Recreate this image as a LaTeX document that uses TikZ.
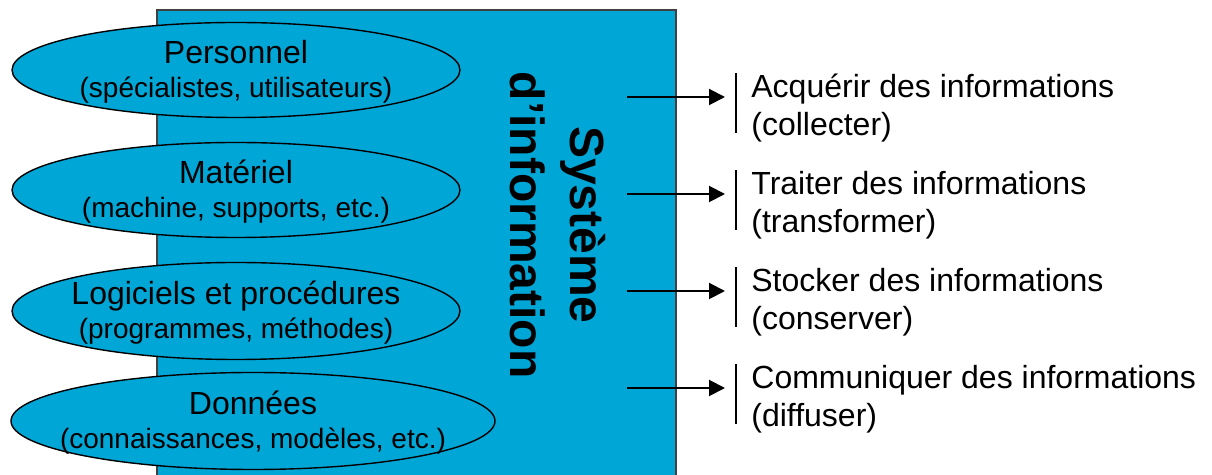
\documentclass[tikz,border=0pt]{standalone}
\usepackage{fontspec}
\setmainfont{Liberation Sans}
\usepackage{xcolor}
\usetikzlibrary{shapes, arrows.meta, positioning}
\definecolor{siblue}{RGB}{0,166,214}
\newcommand{\parthead}[1]{{\fontsize{16}{19}\selectfont #1}}

\begin{document}
\begin{tikzpicture}[x=0.5pt, y=-0.5pt]
    \useasboundingbox (0,0) rectangle (1212,475);
    \tikzstyle{part} = [draw, ellipse, fill=siblue, line width=0.7pt, inner sep=0pt]
    \tikzstyle{parttext} = [align=center, inner sep=0pt, font=\fontsize{14}{17}\selectfont]
    \tikzstyle{task} = [anchor=north west, align=left, inner sep=0pt, font=\fontsize{16}{19}\selectfont]
    \tikzstyle{connector} = [draw, line width=1pt, -{Triangle[length=8pt, width=8pt]}]
    \tikzstyle{bar} = [draw, line width=0.8pt]

    \node[draw=black!75, fill=siblue, line width=0.6pt, inner sep=0pt,
        minimum width=259.5pt,
        minimum height=240pt] at (416.5,250) (system) {};
    \node[rotate=-90, align=center, inner sep=0pt,
        font=\fontsize{24}{30}\selectfont\bfseries] at (558,225) (title) {Système\\d’information};

    \node[part, minimum width=224pt, minimum height=47.5pt] at (236,70) (personnel) {};
    \node[parttext] at ([yshift=-1pt]personnel.center) (personneltxt) {\parthead{Personnel}\\(spécialistes, utilisateurs)};
    \node[part, minimum width=224pt, minimum height=47.5pt] at (236,190) (materiel) {};
    \node[parttext] at ([yshift=-1pt]materiel.center) (materieltxt) {\parthead{Matériel}\\(machine, supports, etc.)};
    \node[part, minimum width=224pt, minimum height=48.5pt] at (236,311) (logiciels) {};
    \node[parttext] at ([yshift=-1pt]logiciels.center) (logicielstxt) {\parthead{Logiciels et procédures}\\(programmes, méthodes)};
    \node[part, minimum width=242pt, minimum height=48.5pt] at (253,421) (donnees) {};
    \node[parttext] at ([yshift=-1pt]donnees.center) (donneestxt) {\parthead{Données}\\(connaissances, modèles, etc.)};

    \node[task] at (751,74) (acquerir) {Acquérir des informations\\(collecter)};
    \node[task] at (751,171) (traiter) {Traiter des informations\\(transformer)};
    \node[task] at (751,268) (stocker) {Stocker des informations\\(conserver)};
    \node[task] at (751,365) (communiquer) {Communiquer des informations\\(diffuser)};

    \coordinate (a1) at (627,97);
    \coordinate (b1) at (725,97);
    \coordinate (a2) at (627,194);
    \coordinate (b2) at (725,194);
    \coordinate (a3) at (627,291);
    \coordinate (b3) at (725,291);
    \coordinate (a4) at (627,388);
    \coordinate (b4) at (725,388);
    \path[connector] (a1) -- (b1);
    \path[connector] (a2) -- (b2);
    \path[connector] (a3) -- (b3);
    \path[connector] (a4) -- (b4);

    \path[bar] (736,73) -- (736,133);
    \path[bar] (736,170) -- (736,230);
    \path[bar] (736,267) -- (736,327);
    \path[bar] (736,364) -- (736,424);
\end{tikzpicture}
\end{document}
